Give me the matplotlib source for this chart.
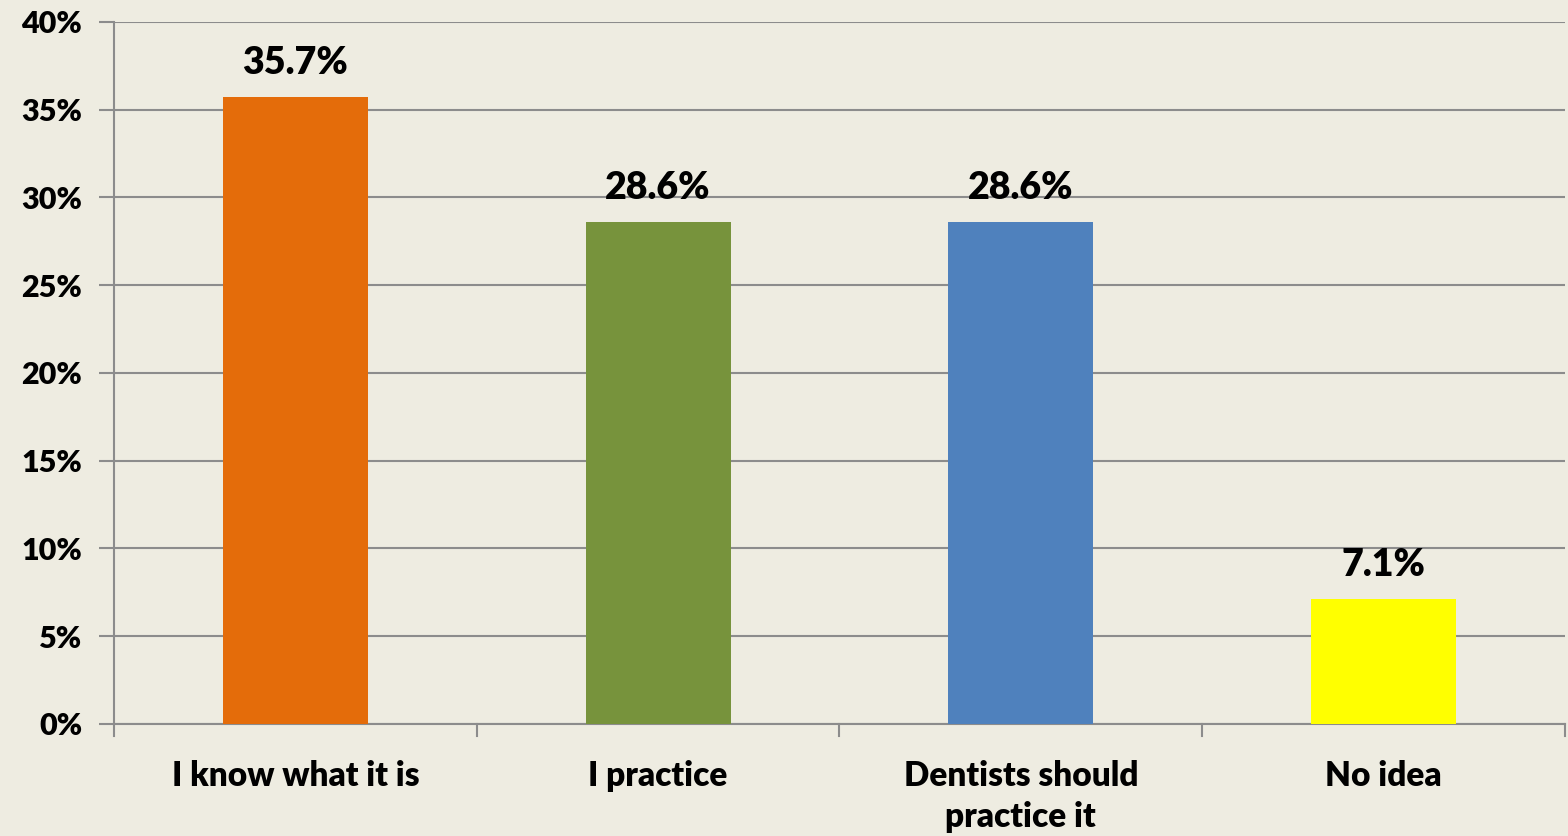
import numpy as np
import matplotlib.pyplot as plt

categories = ['I know what it is', 'I practice', 'Dentists should\npractice it', 'No idea']
values = [35.7, 28.6, 28.6, 7.1]
bar_colors = ['#E46C0A', '#77933C', '#4F81BD', '#FFFF00']
yticks = [0, 5, 10, 15, 20, 25, 30, 35, 40]

plt.rcParams['font.family'] = ['Lato', 'DejaVu Sans']
plt.rcParams['font.weight'] = 'heavy'

bg = '#EEECE1'
fig = plt.figure(figsize=(15.68, 8.36), dpi=100, facecolor=bg)
ax = fig.add_axes([0.0727, 0.134, 0.9253, 0.8397])
ax.set_facecolor(bg)

x = np.arange(len(categories))
ax.bar(x, values, width=0.4, color=bar_colors, zorder=3)

for xi, v in zip(x, values):
    ax.text(xi, v + 1.0, f'{v}%', ha='center', va='bottom', fontsize=27, fontweight='heavy')

ax.set_xlim(-0.5, len(categories) - 0.5)
ax.set_ylim(0, 40)
ax.set_yticks(yticks)
ax.set_yticklabels([f'{t}%' for t in yticks], fontsize=22, fontweight='heavy')
ax.yaxis.grid(True, color='#8C8C8C', linewidth=1.5, zorder=0)

# category labels centered, ticks at the boundaries
ax.set_xticks(x)
ax.set_xticklabels(categories, fontsize=24, fontweight='heavy', va='top', linespacing=1.35)
ax.tick_params(axis='x', length=0, pad=26)
for b in np.arange(-0.5, len(categories), 1.0):
    ax.plot([b, b], [0, -0.7], color='#8C8C8C', lw=1.5, clip_on=False)
ax.tick_params(axis='y', length=11, width=1.5, color='#8C8C8C', pad=12)

for s in ['top', 'right']:
    ax.spines[s].set_visible(False)
for s in ['left', 'bottom']:
    ax.spines[s].set_color('#8C8C8C')
    ax.spines[s].set_linewidth(1.5)

fig.savefig('out.png', dpi=100, facecolor=bg)
